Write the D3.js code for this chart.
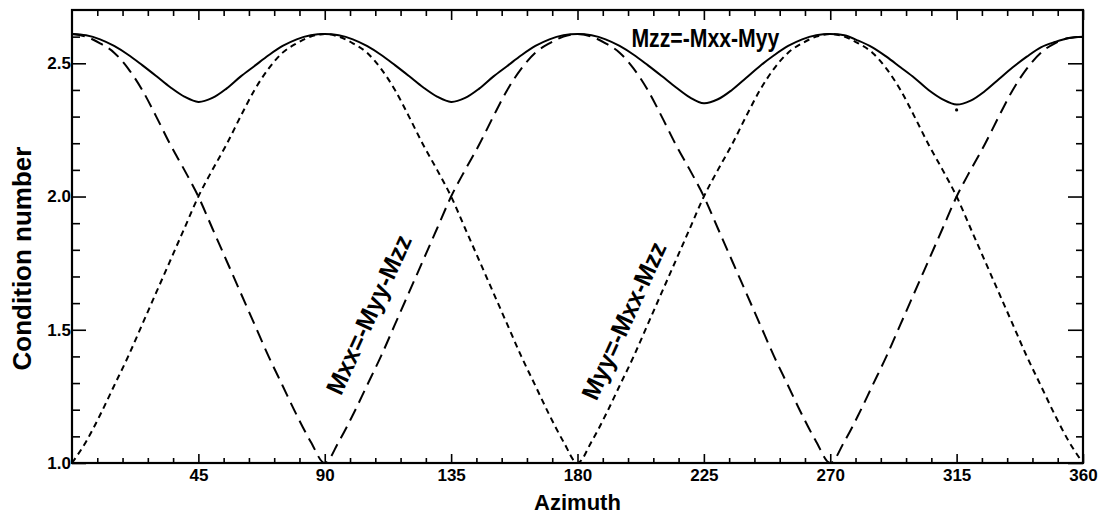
<!DOCTYPE html>
<html>
<head>
<meta charset="utf-8">
<script src="https://cdn.jsdelivr.net/npm/d3@7"></script>
<style>
  body { margin: 0; background: #fff; }
  svg { display: block; font-family: "Liberation Sans", Arial, sans-serif; }
  .tick text { font-weight: bold; font-size: 17px; fill: #000; }
  .tick line { stroke: #000; stroke-width: 1.6; }
  .domain { display: none; }
  .curve { fill: none; stroke: #000; stroke-width: 2; }
  .lbl { font-weight: bold; fill: #000; }
</style>
</head>
<body>
<svg width="1101" height="521"></svg>
<script>
// azimuth (degrees), sampled every 5 deg
var azimuth = [0,5,10,15,20,25,30,35,40,45,50,55,60,65,70,75,80,85,90,
  95,100,105,110,115,120,125,130,135,140,145,150,155,160,165,170,175,180,
  185,190,195,200,205,210,215,220,225,230,235,240,245,250,255,260,265,270,
  275,280,285,290,295,300,305,310,315,320,325,330,335,340,345,350,355,360];

// solid line : Mzz=-Mxx-Myy
var mzz = [2.61,2.605,2.59,2.565,2.532,2.493,2.452,2.41,2.375,2.355,2.37,2.405,2.45,2.49,2.53,2.565,2.59,2.605,2.61,
  2.605,2.59,2.565,2.532,2.493,2.452,2.41,2.375,2.355,2.37,2.405,2.45,2.49,2.53,2.565,2.59,2.605,2.61,
  2.605,2.59,2.565,2.532,2.493,2.452,2.41,2.372,2.35,2.365,2.40,2.445,2.49,2.53,2.565,2.59,2.605,2.61,
  2.605,2.585,2.56,2.525,2.485,2.445,2.40,2.365,2.345,2.36,2.395,2.44,2.485,2.525,2.56,2.58,2.595,2.60];

// long dashes : Mxx=-Myy-Mzz
var mxx = [2.61,2.60,2.575,2.54,2.48,2.40,2.30,2.195,2.10,2.00,1.88,1.76,1.64,1.52,1.40,1.29,1.18,1.08,1.00,
  1.08,1.18,1.29,1.40,1.52,1.64,1.76,1.88,2.00,2.10,2.195,2.30,2.40,2.48,2.54,2.575,2.60,2.61,
  2.60,2.575,2.54,2.48,2.40,2.30,2.195,2.10,2.00,1.88,1.76,1.64,1.52,1.40,1.29,1.18,1.08,1.00,
  1.08,1.18,1.29,1.40,1.52,1.64,1.76,1.88,2.00,2.10,2.195,2.30,2.40,2.48,2.54,2.575,2.595,2.60];

// short dashes : Myy=-Mxx-Mzz
var myy = [1.00,1.08,1.18,1.29,1.40,1.52,1.64,1.76,1.88,2.00,2.10,2.195,2.30,2.40,2.48,2.54,2.575,2.60,2.61,
  2.60,2.575,2.54,2.48,2.40,2.30,2.195,2.10,2.00,1.88,1.76,1.64,1.52,1.40,1.29,1.18,1.08,1.00,
  1.08,1.18,1.29,1.40,1.52,1.64,1.76,1.88,2.00,2.10,2.195,2.30,2.40,2.48,2.54,2.575,2.60,2.61,
  2.60,2.575,2.54,2.48,2.40,2.30,2.195,2.10,2.00,1.88,1.76,1.64,1.52,1.40,1.29,1.18,1.08,1.00];

// stray speck under the last minimum
var speck = [[315, 2.325]];

var xMajor = [45, 90, 135, 180, 225, 270, 315, 360];
var xMinor = [9,18,27,36,54,63,72,81,99,108,117,126,144,153,162,171,189,198,207,216,
  234,243,252,261,279,288,297,306,324,333,342,351];
var yMajor = [1.0, 1.5, 2.0, 2.5];
var yMinor = [1.1,1.2,1.3,1.4,1.6,1.7,1.8,1.9,2.1,2.2,2.3,2.4,2.6];

var svg = d3.select("svg"),
    width = +svg.attr("width"),
    height = +svg.attr("height"),
    margin = {top: 10, right: 18, bottom: 58, left: 72},
    w = width - margin.left - margin.right,
    h = height - margin.top - margin.bottom;

var g = svg.append("g").attr("transform", "translate(" + margin.left + "," + margin.top + ")");

var x = d3.scaleLinear().domain([0, 360]).range([0, w]);
var y = d3.scaleLinear().domain([1, 2.7]).range([h, 0]);

// ticks, all pointing inward
function fmt(d) { return d3.format(".1f")(d); }
g.append("g").attr("transform", "translate(0," + h + ")")
    .call(d3.axisBottom(x).tickValues(xMinor).tickSize(-5).tickFormat(""));
g.append("g").attr("transform", "translate(0," + h + ")")
    .call(d3.axisBottom(x).tickValues(xMajor).tickSize(-9).tickPadding(6).tickFormat(d3.format("d")));
g.append("g")
    .call(d3.axisTop(x).tickValues(xMinor).tickSize(-6).tickFormat(""));
g.append("g")
    .call(d3.axisTop(x).tickValues(xMajor).tickSize(-10).tickFormat(""));

g.append("g")
    .call(d3.axisLeft(y).tickValues(yMinor).tickSize(-8).tickFormat(""));
g.append("g")
    .call(d3.axisLeft(y).tickValues(yMajor).tickSize(-14).tickPadding(1).tickFormat(fmt));
g.append("g").attr("transform", "translate(" + w + ",0)")
    .call(d3.axisRight(y).tickValues(yMinor).tickSize(-7).tickFormat(""));
g.append("g").attr("transform", "translate(" + w + ",0)")
    .call(d3.axisRight(y).tickValues(yMajor).tickSize(-15).tickFormat(""));

// frame
g.append("rect")
    .attr("width", w).attr("height", h)
    .attr("fill", "none").attr("stroke", "#000").attr("stroke-width", 2.2);

// curves
function makeLine(curve) {
    return d3.line()
        .x(function(d, i) { return x(azimuth[i]); })
        .y(function(d) { return y(d); })
        .curve(curve);
}
var line = makeLine(d3.curveMonotoneX);
var smooth = makeLine(d3.curveCatmullRom);

g.append("path").attr("class", "curve").attr("d", smooth(mzz));
g.append("path").attr("class", "curve").attr("d", line(mxx)).attr("stroke-dasharray", "13,7");
g.append("path").attr("class", "curve").attr("d", line(myy)).attr("stroke-dasharray", "6,4.5");

g.selectAll(".speck").data(speck).enter()
    .append("circle").attr("class", "speck")
    .attr("cx", function(d) { return x(d[0]); })
    .attr("cy", function(d) { return y(d[1]); })
    .attr("r", 1.6).attr("fill", "#000");

// curve labels
g.append("text").attr("class", "lbl")
    .attr("x", x(199.2)).attr("y", y(2.56))
    .style("font-size", "25px")
    .attr("textLength", 148).attr("lengthAdjust", "spacingAndGlyphs")
    .text("Mzz=-Mxx-Myy");

g.append("text").attr("class", "lbl")
    .attr("transform", "translate(" + x(95.8) + "," + y(1.25) + ") rotate(-65.5)")
    .style("font-size", "25px")
    .attr("textLength", 172).attr("lengthAdjust", "spacingAndGlyphs")
    .text("Mxx=-Myy-Mzz");

g.append("text").attr("class", "lbl")
    .attr("transform", "translate(" + x(186.8) + "," + y(1.23) + ") rotate(-65.5)")
    .style("font-size", "25px")
    .attr("textLength", 170).attr("lengthAdjust", "spacingAndGlyphs")
    .text("Myy=-Mxx-Mzz");

// axis titles
svg.append("text").attr("class", "lbl")
    .attr("x", margin.left + w / 2).attr("y", 510)
    .attr("text-anchor", "middle")
    .style("font-size", "22px")
    .text("Azimuth");

svg.append("text").attr("class", "lbl")
    .attr("transform", "translate(31," + (margin.top + h / 2 + 22) + ") rotate(-90)")
    .attr("text-anchor", "middle")
    .style("font-size", "26px")
    .text("Condition number");
</script>
</body>
</html>
